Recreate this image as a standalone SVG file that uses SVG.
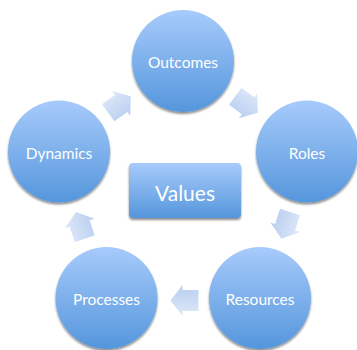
<svg xmlns="http://www.w3.org/2000/svg" width="357" height="350" viewBox="0 0 357 350">
<defs>
<linearGradient id="gNode" x1="0" y1="0" x2="0" y2="1">
<stop offset="0" stop-color="#a7cbfb"/>
<stop offset="1" stop-color="#5596dc"/>
</linearGradient>
<linearGradient id="gArrow" x1="0" y1="0" x2="0" y2="1">
<stop offset="0" stop-color="#dee8f9"/>
<stop offset="1" stop-color="#b8cef0"/>
</linearGradient>
<filter id="sh" x="-20%" y="-20%" width="140%" height="140%">
<feGaussianBlur in="SourceAlpha" stdDeviation="1.2"/>
<feOffset dy="1.5" result="b"/>
<feComponentTransfer><feFuncA type="linear" slope="0.45"/></feComponentTransfer>
<feMerge><feMergeNode/><feMergeNode in="SourceGraphic"/></feMerge>
</filter>
<path id="arr" d="M-14,-10.5 L2,-10.5 L2,-15.5 L14,0 L2,15.5 L2,10.5 L-14,10.5 Z"/>
</defs>
<style>
.node{fill:url(#gNode);filter:url(#sh);}
.lbl{font-family:Lato,"Open Sans",sans-serif;font-size:15.5px;fill:#ffffff;text-anchor:middle;dominant-baseline:central;}
.big{font-size:21px;}
.arrow{fill:url(#gArrow);}
</style>
<rect width="357" height="350" fill="#ffffff"/>
<g id="connectors">
<use href="#arr" class="arrow" transform="translate(246.5,104.6) rotate(36)"/>
<use href="#arr" class="arrow" transform="translate(285.7,225.4) rotate(108)"/>
<use href="#arr" class="arrow" transform="translate(184.5,300.5) rotate(180)"/>
<use href="#arr" class="arrow" transform="translate(80.3,225.4) rotate(252)"/>
<use href="#arr" class="arrow" transform="translate(119.5,104.6) rotate(324)"/>
</g>
<g id="outcomes"><circle class="node" cx="183" cy="61" r="51"/><text class="lbl" x="183" y="62">Outcomes</text></g>
<g id="roles"><circle class="node" cx="307" cy="151.5" r="51"/><text class="lbl" x="307" y="153">Roles</text></g>
<g id="resources"><circle class="node" cx="260" cy="298" r="51"/><text class="lbl" x="260" y="299">Resources</text></g>
<g id="processes"><circle class="node" cx="106.5" cy="298" r="51"/><text class="lbl" x="106.5" y="299">Processes</text></g>
<g id="dynamics"><circle class="node" cx="59" cy="151.5" r="51"/><text class="lbl" x="59" y="153">Dynamics</text></g>
<g id="values"><rect class="node" x="129" y="163" width="112" height="55" rx="4"/><text class="lbl big" x="185" y="192">Values</text></g>
</svg>
